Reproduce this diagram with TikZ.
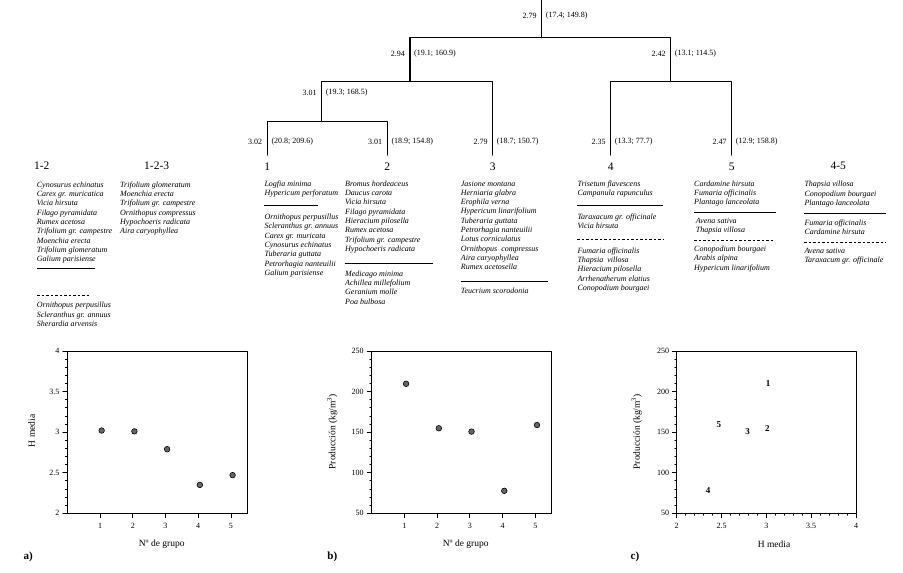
\documentclass[tikz,border=0pt]{standalone}
\usepackage{fontspec}
\setmainfont{Liberation Serif}
\begin{document}
\begin{tikzpicture}[x=1pt, y=-1pt, line join=round, line cap=round,
    tree/.style={line width=1.2pt},
    val/.style={inner sep=0pt, font=\fontsize{8}{9}\selectfont},
    grp/.style={inner sep=0pt, font=\fontsize{11.5}{13}\selectfont},
    spp/.style={anchor=north west, align=left, inner sep=0pt, font=\fontsize{8}{9.3}\selectfont\itshape},
    rule/.style={line width=0.9pt, line cap=butt},
    druled/.style={rule, dash pattern=on 2.5pt off 2pt},
    frame/.style={line width=0.8pt},
    tick/.style={inner sep=0pt, font=\fontsize{8}{9}\selectfont},
    axlab/.style={inner sep=0pt, font=\fontsize{9.5}{11}\selectfont},
    panel/.style={inner sep=0pt, font=\fontsize{11}{13}\selectfont\bfseries},
    dot/.style={circle, inner sep=0pt, minimum size=5.6pt, fill=black!60, draw=black, line width=0.6pt},
    num/.style={inner sep=0pt, font=\fontsize{9}{10}\selectfont\bfseries}]
\useasboundingbox (0,0) rectangle (903,573);

% dendrograma
\coordinate (top) at (541.7,0);
\coordinate (j0) at (541.7,37.7);
\coordinate (j123) at (410,81.7);
\coordinate (j45) at (670.7,81.7);
\coordinate (j12) at (321.7,121.7);
\coordinate (l1) at (267.3,155);
\coordinate (l2) at (387.3,155);
\coordinate (l3) at (492.7,155);
\coordinate (l4) at (610.7,155);
\coordinate (l5) at (731.7,155);
\draw[tree] (top) -- (j0);
\draw[tree] (j123) |- (j0) -| (j45);
\draw[tree] (j12) |- (j123) -| (l3);
\draw[tree] (l1) |- (j12) -| (l2);
\draw[tree] (l4) |- (j45) -| (l5);
\foreach \nm/\x/\y/\h/\p in {r/541.7/15.7/2.79/{(17.4; 149.8)},
    a/410/54/2.94/{(19.1; 160.9)}, b/670.7/54/2.42/{(13.1; 114.5)},
    c/321.7/93/3.01/{(19.3; 168.5)},
    d/267.3/141.7/3.02/{(20.8; 209.6)}, e/387.3/141.7/3.01/{(18.9; 154.8)},
    f/492.7/141.7/2.79/{(18.7; 150.7)}, g/610.7/141.7/2.35/{(13.3; 77.7)},
    h/731.7/141.7/2.47/{(12.9; 158.8)}}{
  \node[val, anchor=east] (h\nm) at (\x-5,\y) {\h};
  \node[val, anchor=west] (p\nm) at (\x+4,\y) {\p};
}

% grupos
\node[grp] (g12) at (41.7,165.5) {1-2};
\node[grp] (g123) at (156.7,165.5) {1-2-3};
\node[grp] (g1) at (267.3,166.5) {1};
\node[grp] (g2) at (387.3,166.5) {2};
\node[grp] (g3) at (492.7,166.5) {3};
\node[grp] (g4) at (610.7,166.5) {4};
\node[grp] (g5) at (731.7,166.5) {5};
\node[grp] (g45) at (838.3,165.5) {4-5};

% especies
\node[spp] (s12a) at (36.7,181.5) {Cynosurus echinatus\\Carex gr. muricatica\\Vicia hirsuta\\Filago pyramidata\\Rumex acetosa\\Trifolium gr. campestre\\Moenchia erecta\\Trifolium glomeratum\\Galium parisiense};
\draw[rule] (37,268.3) -- (95,268.3);
\draw[druled] (37,295.7) -- (90,295.7);
\node[spp] (s12b) at (36.7,302.2) {Ornithopus perpusillus\\Scleranthus gr. annuus\\Sherardia arvensis};

\node[spp] (s123) at (120,181.5) {Trifolium glomeratum\\Moenchia erecta\\Trifolium gr. campestre\\Ornithopus compressus\\Hypochoeris radicata\\Aira caryophyllea};

\node[spp] (s1a) at (264.3,180.8) {Logfia minima\\Hypericum perforatum};
\draw[rule] (264.3,205.7) -- (317.7,205.7);
\node[spp] (s1b) at (264.3,213.8) {Ornithopus perpusillus\\Scleranthus gr. annuus\\Carex gr. muricata\\Cynosurus echinatus\\Tuberaria guttata\\Petrorhagia nanteuilii\\Galium parisiense};

\node[spp] (s2a) at (345,180.5) {Bromus hordeaceus\\Daucus carota\\Vicia hirsuta\\Filago pyramidata\\Hieracium pilosella\\Rumex acetosa\\Trifolium gr. campestre\\Hypochoeris radicata};
\draw[rule] (345,263.3) -- (433.3,263.3);
\node[spp] (s2b) at (345,270.5) {Medicago minima\\Achillea millefolium\\Geranium molle\\Poa bulbosa};

\node[spp] (s3a) at (460.7,180.5) {Jasione montana\\Herniaria glabra\\Erophila verna\\Hypericum linarifolium\\Tuberaria guttata\\Petrorhagia nanteuilii\\Lotus corniculatus\\Ornithopus~ compressus\\Aira caryophyllea\\Rumex acetosella};
\draw[rule] (460.7,281.7) -- (547.7,281.7);
\node[spp] (s3b) at (460.7,288.2) {Teucrium scorodonia};

\node[spp] (s4a) at (577.3,180.5) {Trisetum flavescens\\Campanula rapunculus};
\draw[rule] (577.3,205.7) -- (663.3,205.7);
\node[spp] (s4b) at (577.3,213.8) {Taraxacum gr. officinale\\Vicia hirsuta};
\draw[druled] (577.3,239) -- (663.3,239);
\node[spp] (s4c) at (577.3,247.5) {Fumaria officinalis\\Thapsia~ villosa\\Hieracium pilosella\\Arrhenatherum elatius\\Conopodium bourgaei};

\node[spp] (s5a) at (694,180.5) {Cardamine hirsuta\\Fumaria officinalis\\Plantago lanceolata};
\draw[rule] (694,212.7) -- (775.7,212.7);
\node[spp] (s5b) at (695.7,217.5) {Avena sativa\\Thapsia villosa};
\draw[druled] (694,240.7) -- (773,240.7);
\node[spp] (s5c) at (694,245.8) {Conopodium bourgaei\\Arabis alpina\\Hypericum linarifolium};

\node[spp] (s45a) at (804.3,181.2) {Thapsia villosa\\Conopodium bourgaei\\Plantago lanceolata};
\draw[rule] (804.3,213.3) -- (885.7,213.3);
\node[spp] (s45b) at (804.3,219.8) {Fumaria officinalis\\Cardamine hirsuta};
\draw[druled] (804.3,242.3) -- (885.7,242.3);
\node[spp] (s45c) at (804.3,247.5) {Avena sativa\\Taraxacum gr. officinale};

% a) H media - grupo
\draw[frame] (67.3,351) rectangle (247.3,513.3);
\foreach \i in {0,...,20} \draw[frame] (65.3,{513.3-\i*8.115}) -- (67.3,{513.3-\i*8.115});
\foreach \v [count=\k] in {2,2.5,3,3.5,4}{
  \draw[frame] (62.8,{513.3-(\v-2)*81.15}) -- (67.3,{513.3-(\v-2)*81.15});
  \node[tick, anchor=east] (ay\k) at (59.5,{513.3-(\v-2)*81.15}) {\v};
}
\foreach \v in {1,...,5}{
  \draw[frame] ({67.3+\v*32.73},513.3) -- ({67.3+\v*32.73},517.8);
  \node[tick] (ax\v) at ({67.3+\v*32.73},525.5) {\v};
}
\foreach \x/\y [count=\k] in {1/3.02,2/3.01,3/2.79,4/2.35,5/2.47}
  \node[dot] (pa\k) at ({67.3+(\x+0.05)*32.73},{513.3-(\y-2)*81.15}) {};
\node[axlab] (xa) at (161.7,544) {Nº de grupo};
\node[axlab, rotate=90] (ya) at (31.7,431) {H media};
\node[panel] (pna) at (28.3,556.7) {a)};

% b) produccion - grupo
\draw[frame] (371.7,351) rectangle (551.7,513.3);
\foreach \i in {0,...,20} \draw[frame] (369.7,{513.3-\i*8.115}) -- (371.7,{513.3-\i*8.115});
\foreach \v in {50,100,150,200,250}{
  \draw[frame] (367.2,{513.3-(\v-50)*0.8115}) -- (371.7,{513.3-(\v-50)*0.8115});
  \node[tick, anchor=east] (by\v) at (363.8,{513.3-(\v-50)*0.8115}) {\v};
}
\foreach \v in {1,...,5}{
  \draw[frame] ({371.7+\v*32.73},513.3) -- ({371.7+\v*32.73},517.8);
  \node[tick] (bx\v) at ({371.7+\v*32.73},525.5) {\v};
}
\foreach \x/\y [count=\k] in {1/209.6,2/154.8,3/150.7,4/77.7,5/158.8}
  \node[dot] (pb\k) at ({371.7+(\x+0.05)*32.73},{513.3-(\y-50)*0.8115}) {};
\node[axlab] (xb) at (465.7,544) {Nº de grupo};
\node[axlab, rotate=90] (yb) at (332.3,431.7) {Producción (kg/m\textsuperscript{3})};
\node[panel] (pnb) at (332.3,556.7) {b)};

% c) produccion - H media
\draw[frame] (676.7,351) rectangle (856,513.3);
\foreach \i in {0,...,20}{
  \draw[frame] (674.7,{513.3-\i*8.115}) -- (676.7,{513.3-\i*8.115});
  \draw[frame] ({676.7+\i*8.965},513.3) -- ({676.7+\i*8.965},515.3);
}
\foreach \v in {50,100,150,200,250}{
  \draw[frame] (672.2,{513.3-(\v-50)*0.8115}) -- (676.7,{513.3-(\v-50)*0.8115});
  \node[tick, anchor=east] (cy\v) at (669.3,{513.3-(\v-50)*0.8115}) {\v};
}
\foreach \v [count=\k] in {2,2.5,3,3.5,4}{
  \draw[frame] ({676.7+(\v-2)*89.65},513.3) -- ({676.7+(\v-2)*89.65},517.8);
  \node[tick] (cx\k) at ({676.7+(\v-2)*89.65},525.5) {\v};
}
\foreach \x/\y [count=\k] in {3.02/209.6,3.01/154.8,2.79/150.7,2.35/77.7,2.47/158.8}
  \node[num] (pc\k) at ({676.7+(\x-2)*89.65},{513.3-(\y-50)*0.8115}) {\k};
\node[axlab] (xc) at (774,544) {H media};
\node[axlab, rotate=90] (yc) at (636.7,431.7) {Producción (kg/m\textsuperscript{3})};
\node[panel] (pnc) at (635,556.7) {c)};
\end{tikzpicture}
\end{document}
